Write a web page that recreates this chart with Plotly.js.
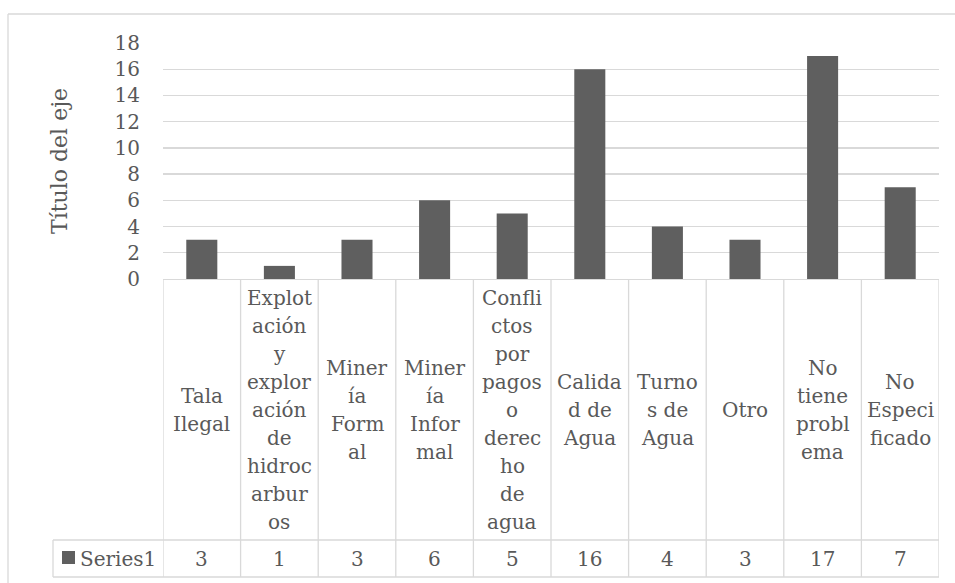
<!DOCTYPE html>
<html>
<head>
<meta charset="utf-8">
<script src="https://cdn.plot.ly/plotly-3.0.1.min.js"></script>
<style>html,body{margin:0;padding:0;background:#fff;}#chart{width:955px;height:583px;}</style>
</head>
<body>
<div id="chart"></div>
<script>
// ---- data ----
const categories = ["Tala Ilegal","Explotación y exploración de hidrocarburos","Minería Formal","Minería Informal","Conflictos por pagos o derecho de agua","Calidad de Agua","Turnos de Agua","Otro","No tiene problema","No Especificado"];
const tickLabels = [
  "Tala<br>Ilegal",
  "Explot<br>ación<br>y<br>explor<br>ación<br>de<br>hidroc<br>arbur<br>os",
  "Miner<br>ía<br>Form<br>al",
  "Miner<br>ía<br>Infor<br>mal",
  "Confli<br>ctos<br>por<br>pagos<br>o<br>derec<br>ho<br>de<br>agua",
  "Calida<br>d de<br>Agua",
  "Turno<br>s de<br>Agua",
  "Otro",
  "No<br>tiene<br>probl<br>ema",
  "No<br>Especi<br>ficado"
];
const seriesName = "Series1";
const values = [3, 1, 3, 6, 5, 16, 4, 3, 17, 7];
const yTitle = "Título del eje";

// ---- layout helpers (pixel geometry) ----
const W = 955, H = 583;
const L = 163, R = 939, T = 43, B = 279;
const pw = R - L, ph = B - T;
const fx = p => (p - L) / pw;
const fy = p => (B - p) / ph;
const FONT = "DejaVu Serif";
const TXT = "#595959";
const LINE = "#d9d9d9";
const BAR = "#5f5f5f";

const idx = categories.map((c, i) => i);
const shapes = [];
const annotations = [];

// outer chart border (left + top visible)
shapes.push({type:"line", xref:"paper", yref:"paper", x0:fx(8), x1:fx(8), y0:fy(14), y1:fy(H+5), line:{color:LINE, width:1.3}});
shapes.push({type:"line", xref:"paper", yref:"paper", x0:fx(8), x1:fx(W+5), y0:fy(14), y1:fy(14), line:{color:LINE, width:1.3}});

// data table lines
const rowTop = 540, rowBot = 577, keyLeft = 53;
idx.concat([categories.length]).forEach(i => {
  shapes.push({type:"line", xref:"x", yref:"paper", x0:i-0.5, x1:i-0.5, y0:fy(B), y1:fy(rowBot), line:{color:LINE, width:1.3}});
});
shapes.push({type:"line", xref:"paper", yref:"paper", x0:fx(keyLeft), x1:fx(keyLeft), y0:fy(rowTop), y1:fy(rowBot), line:{color:LINE, width:1.3}});
[rowTop, rowBot].forEach(y => {
  shapes.push({type:"line", xref:"paper", yref:"paper", x0:fx(keyLeft), x1:fx(R), y0:fy(y), y1:fy(y), line:{color:LINE, width:1.3}});
});
// legend key
shapes.push({type:"rect", xref:"paper", yref:"paper", x0:fx(62), x1:fx(75), y0:fy(551), y1:fy(564), fillcolor:BAR, line:{width:0}});

// category labels, one annotation per wrapped line
const cellMid = (B + rowTop) / 2, lineH = 28;
tickLabels.forEach((lab, i) => {
  const lines = lab.split("<br>");
  const n = lines.length;
  lines.forEach((ln, k) => {
    annotations.push({xref:"x", yref:"paper", x:i, y:fy(cellMid + (k - (n-1)/2) * lineH),
      text:ln, showarrow:false, xanchor:"center", yanchor:"middle",
      font:{family:FONT, size:20, color:TXT}});
  });
});
// values row
const valMid = (rowTop + rowBot) / 2;
values.forEach((v, i) => {
  annotations.push({xref:"x", yref:"paper", x:i, y:fy(valMid), text:String(v), showarrow:false,
    xanchor:"center", yanchor:"middle", font:{family:FONT, size:20, color:TXT}});
});
annotations.push({xref:"paper", yref:"paper", x:fx(78), y:fy(valMid), text:seriesName, showarrow:false,
  xanchor:"left", yanchor:"middle", font:{family:FONT, size:20, color:TXT}});
// y-axis title
annotations.push({xref:"paper", yref:"paper", x:fx(59), y:fy((T+B)/2), text:yTitle, textangle:-90, showarrow:false,
  xanchor:"center", yanchor:"middle", font:{family:FONT, size:22, color:TXT}});

const trace = {type:"bar", x:idx, y:values, name:seriesName, marker:{color:BAR, line:{width:0}}, hoverinfo:"none"};

const layout = {
  width:W, height:H,
  margin:{l:L, r:W-R, t:T, b:H-B, pad:0},
  paper_bgcolor:"#fff", plot_bgcolor:"#fff",
  showlegend:false,
  bargap:0.6,
  xaxis:{type:"linear", range:[-0.5, categories.length-0.5], showticklabels:false, showgrid:false, zeroline:false,
    showline:true, linecolor:LINE, linewidth:1.3, ticks:"", fixedrange:true},
  yaxis:{range:[0,18], dtick:2, tick0:0, showgrid:true, gridcolor:LINE, gridwidth:1.3, zeroline:false, showline:false,
    ticks:"", ticklabelstandoff:22, tickfont:{family:FONT, size:20, color:TXT}, fixedrange:true},
  shapes:shapes,
  annotations:annotations
};

Plotly.newPlot("chart", [trace], layout, {displayModeBar:false, staticPlot:true});
</script>
</body>
</html>
